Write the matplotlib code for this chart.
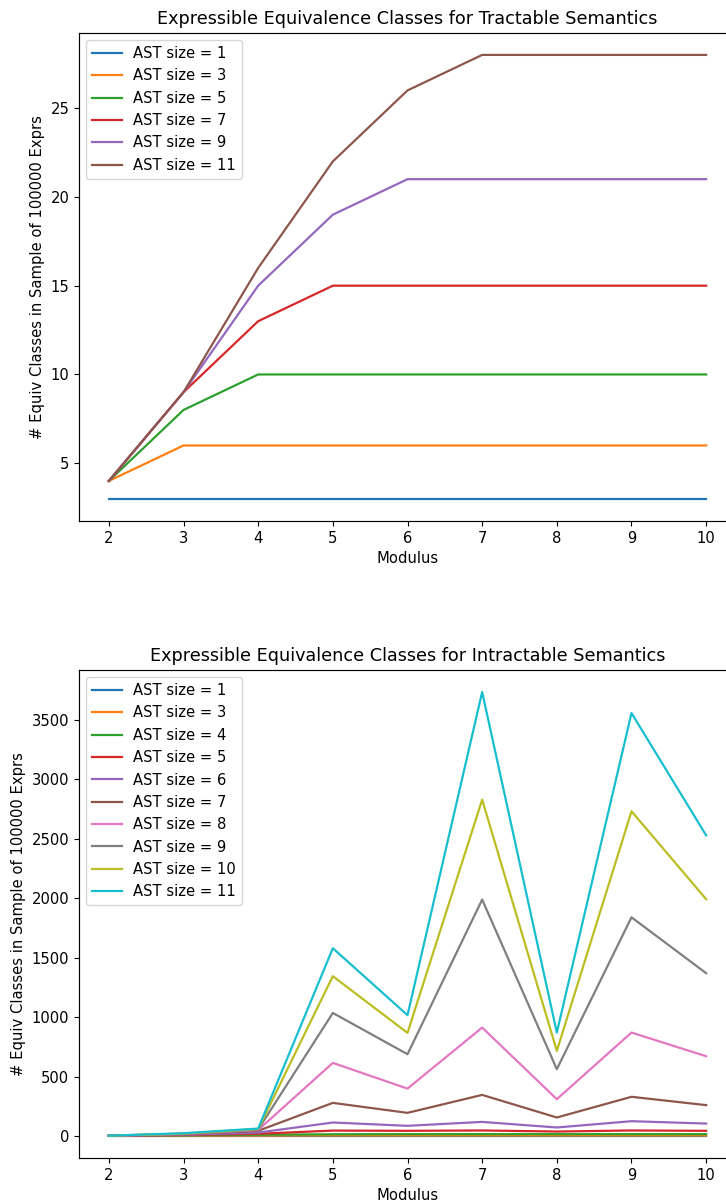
#!/usr/bin/env python3

import matplotlib
matplotlib.use('Agg')
import matplotlib.pyplot as plt

# Modulus values on the x axis
moduli = [2, 3, 4, 5, 6, 7, 8, 9, 10]

# Tractable semantics: AST sizes and class counts
tract_sizes = [1, 3, 5, 7, 9, 11]
tract_s1 = [3, 3, 3, 3, 3, 3, 3, 3, 3]
tract_s3 = [4, 6, 6, 6, 6, 6, 6, 6, 6]
tract_s5 = [4, 8, 10, 10, 10, 10, 10, 10, 10]
tract_s7 = [4, 9, 13, 15, 15, 15, 15, 15, 15]
tract_s9 = [4, 9, 15, 19, 21, 21, 21, 21, 21]
tract_s11 = [4, 9, 16, 22, 26, 28, 28, 28, 28]
tract_counts = [tract_s1, tract_s3, tract_s5, tract_s7, tract_s9, tract_s11]

# Intractable semantics: AST sizes and class counts
intract_sizes = [1, 3, 4, 5, 6, 7, 8, 9, 10, 11]
intract_s1 = [3, 3, 3, 3, 3, 3, 3, 3, 3]
intract_s3 = [4, 5, 5, 6, 6, 6, 6, 6, 6]
intract_s4 = [4, 8, 12, 16, 17, 17, 17, 17, 17]
intract_s5 = [4, 10, 20, 47, 45, 48, 39, 48, 45]
intract_s6 = [4, 12, 30, 115, 87, 120, 73, 126, 106]
intract_s7 = [4, 15, 45, 280, 196, 347, 157, 331, 261]
intract_s8 = [4, 18, 52, 616, 400, 913, 311, 871, 672]
intract_s9 = [4, 20, 56, 1036, 689, 1989, 563, 1840, 1370]
intract_s10 = [4, 22, 60, 1345, 868, 2829, 717, 2731, 1992]
intract_s11 = [4, 25, 64, 1580, 1017, 3734, 871, 3557, 2529]
intract_counts = [intract_s1, intract_s3, intract_s4, intract_s5, intract_s6,
                  intract_s7, intract_s8, intract_s9, intract_s10, intract_s11]

# reference looks like a slightly downscaled hi-res render
scale = 1.06
plt.rcParams['font.size'] = 10 * scale
plt.rcParams['axes.titlesize'] = 12 * scale
plt.rcParams['lines.linewidth'] = 1.5 * scale
plt.rcParams['axes.linewidth'] = 0.8 * scale

fig, (ax1, ax2) = plt.subplots(2, 1, figsize=(7.26, 12.03), dpi=100)
# right edge of the axes falls just outside the saved image
fig.subplots_adjust(left=0.1088, right=1.0138, top=0.9728, bottom=0.0374,
                    hspace=0.305)

for size, counts in zip(tract_sizes, tract_counts):
    ax1.plot(moduli, counts, label=f'AST size = {size}')
ax1.set_title('Expressible Equivalence Classes for Tractable Semantics')
ax1.set_xlabel('Modulus')
ax1.set_ylabel('# Equiv Classes in Sample of 100000 Exprs')
ax1.legend(loc='upper left')

for size, counts in zip(intract_sizes, intract_counts):
    ax2.plot(moduli, counts, label=f'AST size = {size}')
ax2.set_title('Expressible Equivalence Classes for Intractable Semantics')
ax2.set_xlabel('Modulus')
ax2.set_ylabel('# Equiv Classes in Sample of 100000 Exprs')
ax2.legend(loc='upper left')

plt.savefig('out.png', dpi=100)
